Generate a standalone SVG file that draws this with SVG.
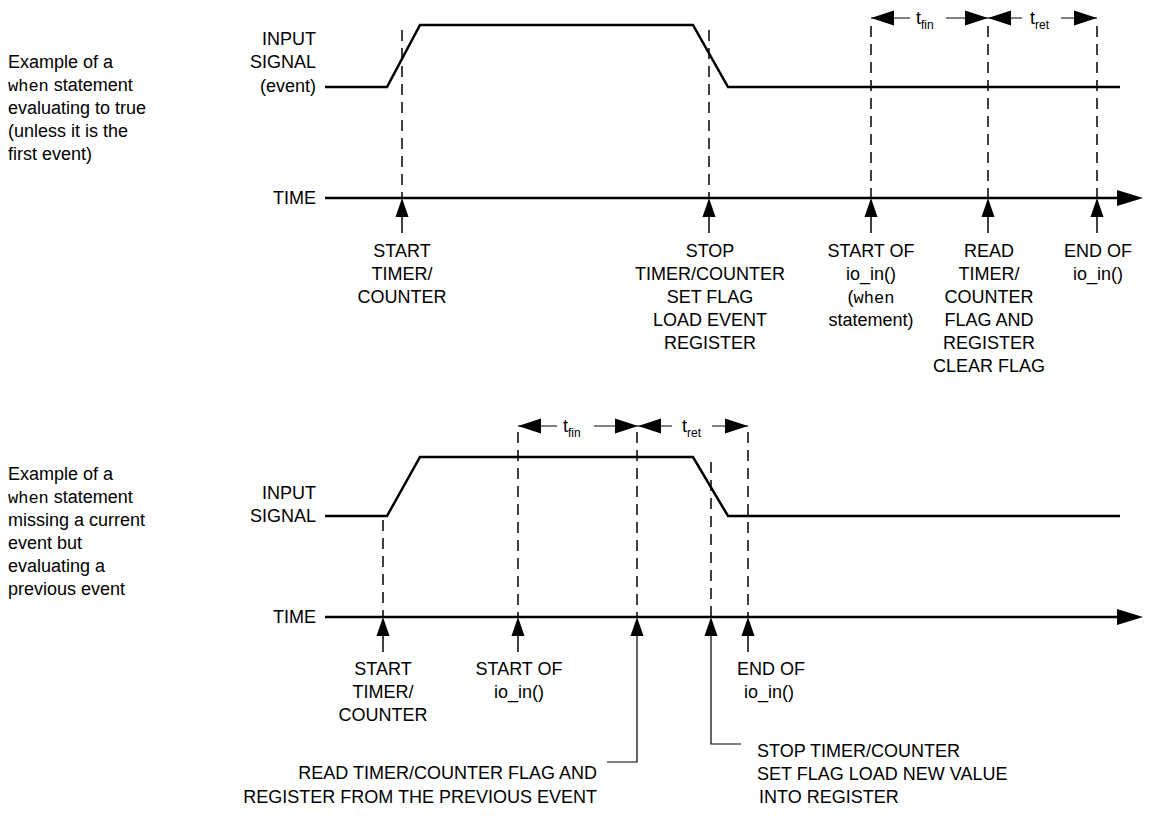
<svg xmlns="http://www.w3.org/2000/svg" width="1149" height="816" viewBox="0 0 1149 816">
<style>
  text { font-family: "Liberation Sans", Arial, sans-serif; font-size: 18px; fill: #000; }
  .m { text-anchor: middle; }
  .r { text-anchor: end; }
  .mono { font-family: "Liberation Mono", "Courier New", monospace; font-size: 17px; }
  .sub { font-size: 12px; }
  .sig { stroke: #000; stroke-width: 2.5; fill: none; stroke-linejoin: miter; }
  .axis { stroke: #000; stroke-width: 2.5; fill: none; }
  .dash { stroke: #000; stroke-width: 1.5; stroke-dasharray: 11 7; fill: none; }
  .thin { stroke: #000; stroke-width: 1.2; fill: none; }
  .stem { stroke: #000; stroke-width: 1.5; fill: none; }
  .head { fill: #000; stroke: none; }
</style>
<defs>
  <path id="up" class="head" d="M0,0 L6.5,19 L-6.5,19 Z"/>
  <path id="lt" class="head" d="M0,0 L23,-7.5 L23,7.5 Z"/>
  <path id="rt" class="head" d="M0,0 L-23,-7.5 L-23,7.5 Z"/>
</defs>

<!-- ================= TOP DIAGRAM ================= -->
<g id="top-description">
  <text x="8" y="68">Example of a</text>
  <text x="8" y="91"><tspan class="mono">when</tspan> statement</text>
  <text x="8" y="114">evaluating to true</text>
  <text x="8" y="137">(unless it is the</text>
  <text x="8" y="160">first event)</text>
</g>
<g id="top-signal">
  <text class="r" x="316" y="45">INPUT</text>
  <text class="r" x="316" y="68">SIGNAL</text>
  <text class="r" x="316" y="92">(event)</text>
  <path class="sig" d="M325,87 H387 L420,25 H693 L728,87 H1120"/>
</g>
<g id="top-time">
  <text class="r" x="316" y="204">TIME</text>
  <line class="axis" x1="325" y1="198" x2="1120" y2="198"/>
  <path class="head" d="M1143,198 L1117,190 L1117,206 Z"/>
</g>
<g id="top-connectors">
  <line class="dash" x1="402" y1="30" x2="402" y2="198"/>
  <line class="dash" x1="709" y1="30" x2="709" y2="198"/>
  <line class="dash" x1="871" y1="26" x2="871" y2="198"/>
  <line class="dash" x1="988" y1="26" x2="988" y2="198"/>
  <line class="dash" x1="1097" y1="26" x2="1097" y2="198"/>
  <line class="stem" x1="402" y1="212" x2="402" y2="233"/><use href="#up" x="402" y="198"/>
  <line class="stem" x1="709" y1="212" x2="709" y2="233"/><use href="#up" x="709" y="198"/>
  <line class="stem" x1="871" y1="212" x2="871" y2="233"/><use href="#up" x="871" y="198"/>
  <line class="stem" x1="988" y1="212" x2="988" y2="233"/><use href="#up" x="988" y="198"/>
  <line class="stem" x1="1097" y1="212" x2="1097" y2="233"/><use href="#up" x="1097" y="198"/>
  <!-- t_fin / t_ret -->
  <line class="thin" x1="871" y1="18" x2="910" y2="18"/>
  <line class="thin" x1="946" y1="18" x2="988" y2="18"/>
  <use href="#lt" x="871" y="18"/><use href="#rt" x="988" y="18"/>
  <line class="thin" x1="988" y1="18" x2="1022" y2="18"/>
  <line class="thin" x1="1061" y1="18" x2="1097" y2="18"/>
  <use href="#lt" x="988" y="18"/><use href="#rt" x="1097" y="18"/>
</g>
<g id="top-tlabels">
  <text x="916" y="24">t<tspan class="sub" dy="5">fin</tspan></text>
  <text x="1030" y="24">t<tspan class="sub" dy="5">ret</tspan></text>
</g>
<g id="top-ev1">
  <text class="m" x="402" y="257">START</text>
  <text class="m" x="402" y="280">TIMER/</text>
  <text class="m" x="402" y="303">COUNTER</text>
</g>
<g id="top-ev2">
  <text class="m" x="710" y="257">STOP</text>
  <text class="m" x="710" y="280">TIMER/COUNTER</text>
  <text class="m" x="710" y="303">SET FLAG</text>
  <text class="m" x="710" y="326">LOAD EVENT</text>
  <text class="m" x="710" y="349">REGISTER</text>
</g>
<g id="top-ev3">
  <text class="m" x="871" y="257">START OF</text>
  <text class="m" x="871" y="280">io_in()</text>
  <text class="m" x="871" y="303">(<tspan class="mono">when</tspan></text>
  <text class="m" x="871" y="326">statement)</text>
</g>
<g id="top-ev4">
  <text class="m" x="989" y="257">READ</text>
  <text class="m" x="989" y="280">TIMER/</text>
  <text class="m" x="989" y="303">COUNTER</text>
  <text class="m" x="989" y="326">FLAG AND</text>
  <text class="m" x="989" y="349">REGISTER</text>
  <text class="m" x="989" y="372">CLEAR FLAG</text>
</g>
<g id="top-ev5">
  <text class="m" x="1098" y="257">END OF</text>
  <text class="m" x="1098" y="280">io_in()</text>
</g>

<!-- ================= BOTTOM DIAGRAM ================= -->
<g id="bottom-description">
  <text x="8" y="480">Example of a</text>
  <text x="8" y="503"><tspan class="mono">when</tspan> statement</text>
  <text x="8" y="526">missing a current</text>
  <text x="8" y="549">event but</text>
  <text x="8" y="572">evaluating a</text>
  <text x="8" y="595">previous event</text>
</g>
<g id="bottom-signal">
  <text class="r" x="316" y="499">INPUT</text>
  <text class="r" x="316" y="522">SIGNAL</text>
  <path class="sig" d="M325,516 H387 L420,457 H693 L728,516 H1120"/>
</g>
<g id="bottom-time">
  <text class="r" x="316" y="623">TIME</text>
  <line class="axis" x1="325" y1="617" x2="1120" y2="617"/>
  <path class="head" d="M1143,617 L1117,609 L1117,625 Z"/>
</g>
<g id="bottom-connectors">
  <line class="dash" x1="383" y1="520" x2="383" y2="617"/>
  <line class="dash" x1="518" y1="432" x2="518" y2="617"/>
  <line class="dash" x1="637" y1="432" x2="637" y2="617"/>
  <line class="dash" x1="711" y1="462" x2="711" y2="617"/>
  <line class="dash" x1="748" y1="432" x2="748" y2="617"/>
  <line class="stem" x1="383" y1="631" x2="383" y2="652"/><use href="#up" x="383" y="617"/>
  <line class="stem" x1="518" y1="631" x2="518" y2="652"/><use href="#up" x="518" y="617"/>
  <line class="stem" x1="748" y1="631" x2="748" y2="652"/><use href="#up" x="748" y="617"/>
  <use href="#up" x="637" y="617"/>
  <use href="#up" x="711" y="617"/>
  <polyline class="thin" points="637,631 637,762 607,762"/>
  <polyline class="thin" points="711,631 711,744 741,744"/>
  <!-- t_fin / t_ret -->
  <line class="thin" x1="518" y1="426" x2="557" y2="426"/>
  <line class="thin" x1="594" y1="426" x2="638" y2="426"/>
  <use href="#lt" x="518" y="426"/><use href="#rt" x="638" y="426"/>
  <line class="thin" x1="638" y1="426" x2="672" y2="426"/>
  <line class="thin" x1="712" y1="426" x2="748" y2="426"/>
  <use href="#lt" x="638" y="426"/><use href="#rt" x="748" y="426"/>
</g>
<g id="bottom-tlabels">
  <text x="563" y="432">t<tspan class="sub" dy="5">fin</tspan></text>
  <text x="682" y="432">t<tspan class="sub" dy="5">ret</tspan></text>
</g>
<g id="bottom-ev1">
  <text class="m" x="383" y="675">START</text>
  <text class="m" x="383" y="698">TIMER/</text>
  <text class="m" x="383" y="721">COUNTER</text>
</g>
<g id="bottom-ev2">
  <text class="m" x="519" y="675">START OF</text>
  <text class="m" x="519" y="698">io_in()</text>
</g>
<g id="bottom-ev3">
  <text class="m" x="771" y="675">END OF</text>
  <text class="m" x="769" y="698">io_in()</text>
</g>
<g id="bottom-ev4">
  <text class="r" x="597" y="779">READ TIMER/COUNTER FLAG AND</text>
  <text class="r" x="597" y="803">REGISTER FROM THE PREVIOUS EVENT</text>
</g>
<g id="bottom-ev5">
  <text x="757" y="757">STOP TIMER/COUNTER</text>
  <text x="757" y="780">SET FLAG LOAD NEW VALUE</text>
  <text x="759" y="803">INTO REGISTER</text>
</g>
</svg>
